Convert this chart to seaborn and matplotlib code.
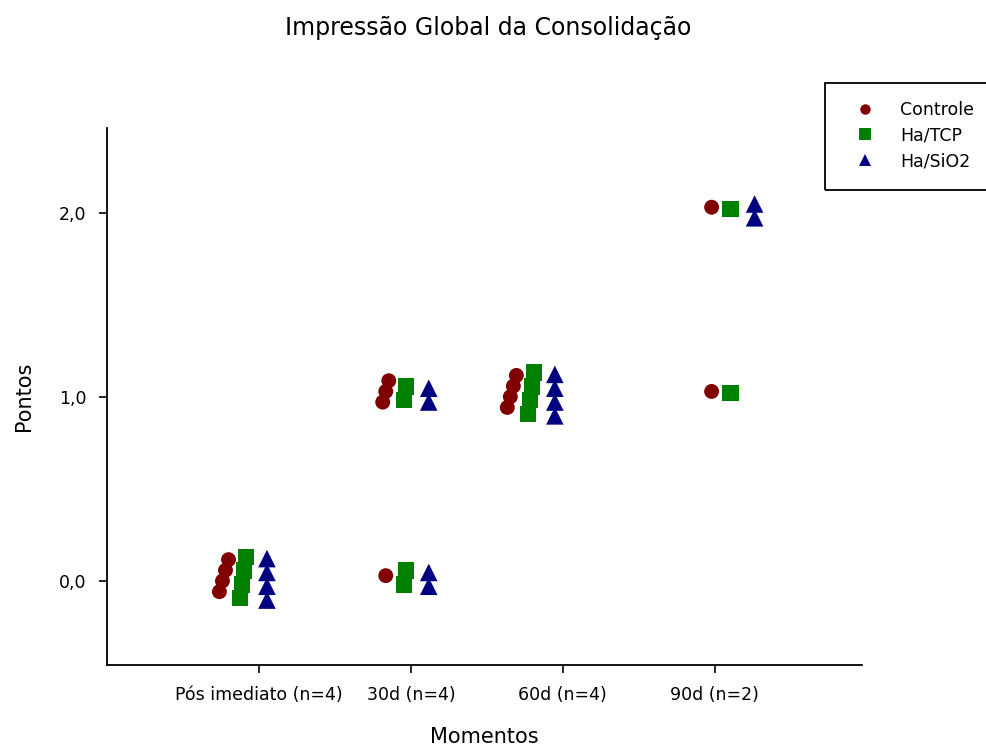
import numpy as np
import pandas as pd
import matplotlib
matplotlib.use("Agg")
import matplotlib.pyplot as plt
from matplotlib.lines import Line2D
from matplotlib.patches import Rectangle
import seaborn as sns

# Scores per subject at each time point
momentos = ["Pós imediato (n=4)", "30d (n=4)", "60d (n=4)", "90d (n=2)"]
grupos = ["Controle", "Ha/TCP", "Ha/SiO2"]
controle = [[0, 0, 0, 0], [1, 1, 1, 0], [1, 1, 1, 1], [2, 1]]
ha_tcp = [[0, 0, 0, 0], [1, 1, 0, 0], [1, 1, 1, 1], [2, 1]]
ha_sio2 = [[0, 0, 0, 0], [1, 1, 0, 0], [1, 1, 1, 1], [2, 2]]
y_ticks = [0.0, 1.0, 2.0]

cores = {"Controle": "#800000", "Ha/TCP": "#008000", "Ha/SiO2": "#000080"}
marcadores = {"Controle": "o", "Ha/TCP": "s", "Ha/SiO2": "^"}
tamanhos = {"Controle": 115, "Ha/TCP": 140, "Ha/SiO2": 160}

# Layout of the markers: horizontal place of each series within a time point,
# and the offsets used to separate subjects that share the same score.
group_shift = [-0.105, -0.04, -0.21, 0.105]
series_shift = {"Controle": -0.125, "Ha/TCP": 0.0, "Ha/SiO2": 0.158}
stack_step = {"Controle": 0.058, "Ha/TCP": 0.075, "Ha/SiO2": 0.075}
stack_dx = {"Controle": 0.02, "Ha/TCP": 0.013, "Ha/SiO2": 0.0}
stack_center = {"Controle": 0.03, "Ha/TCP": 0.02, "Ha/SiO2": 0.01}

rows = []
for nome, serie in zip(grupos, [controle, ha_tcp, ha_sio2]):
    for gi, valores in enumerate(serie):
        for v in sorted(set(valores)):
            k = valores.count(v)
            for i in range(k):
                rel = i - (k - 1) / 2
                rows.append({
                    "Grupo": nome,
                    "Momento": momentos[gi],
                    "Pontos": v,
                    "xpos": gi + group_shift[gi] + series_shift[nome] + rel * stack_dx[nome],
                    "ypos": v + stack_center[nome] + rel * stack_step[nome],
                })
df = pd.DataFrame(rows)

sns.set_style("white")
plt.rcParams["font.family"] = ["DejaVu Sans"]
plt.rcParams["text.color"] = "black"

fig = plt.figure(figsize=(9.87, 7.51), dpi=100)
ax = fig.add_axes([107 / 987, 1 - 665 / 751, (862 - 107) / 987, (665 - 128) / 751])

sns.scatterplot(
    data=df, x="xpos", y="ypos", hue="Grupo", style="Grupo", size="Grupo",
    palette=cores, markers=marcadores, sizes=tamanhos,
    hue_order=grupos, style_order=grupos, size_order=grupos,
    linewidth=0, edgecolor="none", legend=False, ax=ax, zorder=3,
)

ax.set_xlim(-1.0, 3.97)
ax.set_ylim(-0.455, 2.46)
ax.set_xticks(range(len(momentos)))
ax.set_xticklabels(momentos)
ax.set_yticks(y_ticks)
ax.set_yticklabels([f"{t:.1f}".replace(".", ",") for t in y_ticks])

for side in ["top", "right"]:
    ax.spines[side].set_visible(False)
for side in ["left", "bottom"]:
    ax.spines[side].set_color("black")
    ax.spines[side].set_linewidth(1.3)
ax.tick_params(axis="both", which="major", bottom=True, left=True,
               direction="out", length=6, width=1.2, color="black",
               labelsize=12.5, labelcolor="black", pad=9)

ax.set_xlabel("Momentos", fontsize=15, color="black", va="center")
ax.xaxis.set_label_coords(0.5, (665 - 737) / 537)
ax.set_ylabel("Pontos", fontsize=15, labelpad=18, color="black")

fig.text(0.495, 1 - 28 / 751, "Impressão Global da Consolidação",
         ha="center", va="center", fontsize=17, color="black")

# Legend with a plain black frame
handles = [
    Line2D([], [], linestyle="none", marker=marcadores[g], color=cores[g],
           markeredgewidth=0, markersize=ms)
    for g, ms in zip(grupos, [7.5, 8.5, 9])
]
fig.legend(handles, grupos, loc="upper left",
           bbox_to_anchor=(835 / 987, 1 - 92 / 751), frameon=False,
           fontsize=12.5, handlelength=2.5, handletextpad=0.75,
           labelspacing=0.45, borderpad=0, labelcolor="black")
fig.add_artist(Rectangle((825 / 987, 1 - 190 / 751), 0.2, 107 / 751,
                         transform=fig.transFigure, fill=False,
                         edgecolor="black", linewidth=1.3, clip_on=False))

fig.savefig("out.png", dpi=100)
